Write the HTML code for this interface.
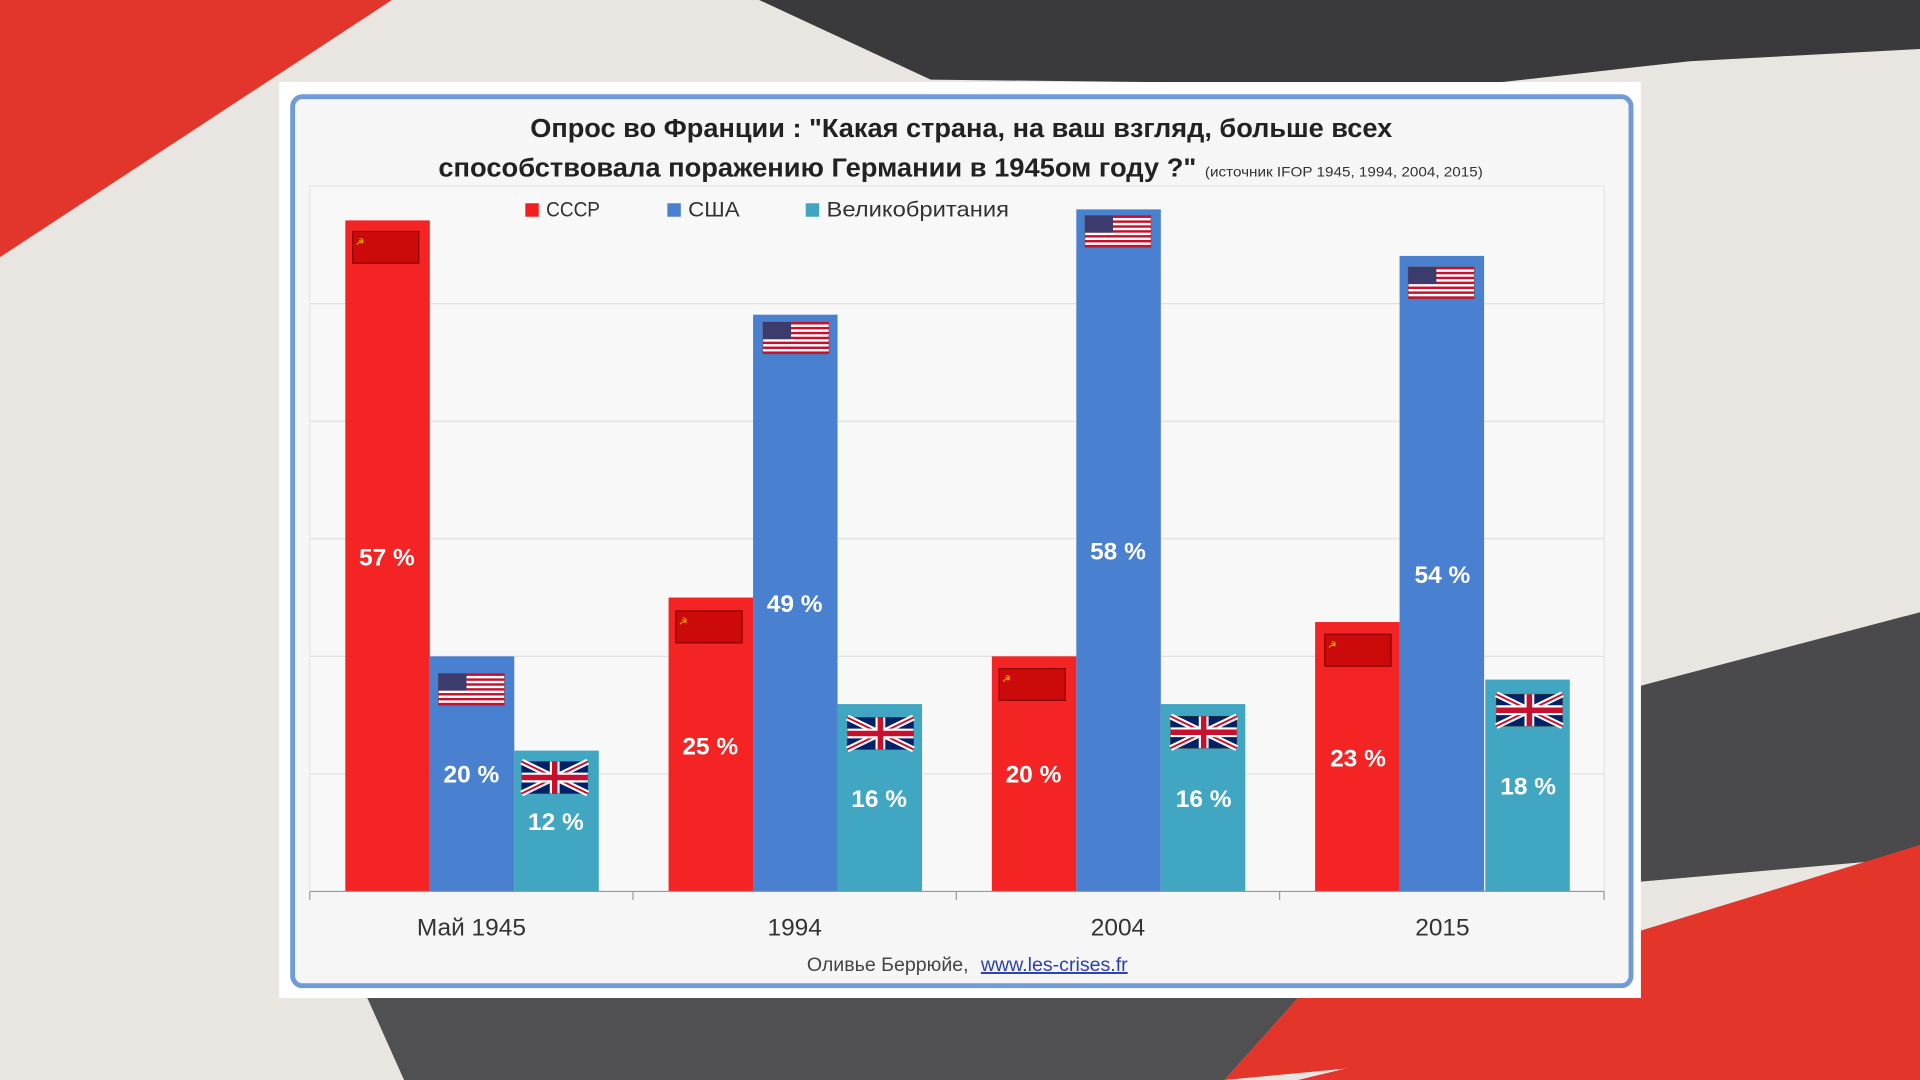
<!DOCTYPE html>
<html><head><meta charset="utf-8"><style>
html,body{margin:0;padding:0;width:1920px;height:1080px;overflow:hidden;background:#eee}
svg{display:block}
text{font-family:"Liberation Sans","DejaVu Sans",sans-serif}
</style></head><body>
<svg width="1920" height="1080" viewBox="0 0 1568 882" xmlns="http://www.w3.org/2000/svg">
<defs>
<g id="su"><rect width="54" height="26" fill="#cc0a0a" stroke="#8a0000" stroke-width="1"/><text x="6" y="11" font-size="8" fill="#f5c400">☭</text></g>
<g id="us"><rect width="54" height="26" fill="#fff" stroke="#666" stroke-width="0.6"/>
<rect y="0" width="54" height="2" fill="#c8102e"/><rect y="4" width="54" height="2" fill="#c8102e"/><rect y="8" width="54" height="2" fill="#c8102e"/><rect y="12" width="54" height="2" fill="#c8102e"/><rect y="16" width="54" height="2" fill="#c8102e"/><rect y="20" width="54" height="2" fill="#c8102e"/><rect y="24" width="54" height="2" fill="#c8102e"/>
<rect width="23" height="14" fill="#3c3b6e"/></g>
<g id="uk"><rect width="54" height="26" fill="#012169" stroke="#333" stroke-width="0.6"/>
<path d="M0 0L54 26M54 0L0 26" stroke="#fff" stroke-width="5"/><path d="M0 0L54 26M54 0L0 26" stroke="#c8102e" stroke-width="1.6"/>
<path d="M27 0V26M0 13H54" stroke="#fff" stroke-width="8"/><path d="M27 0V26M0 13H54" stroke="#c8102e" stroke-width="4.5"/></g>
</defs>
<rect width="1568" height="882" fill="#e9e6e1"/>
<polygon points="0,0 320,0 0,210" fill="#e2352b"/>
<polygon points="620,0 1568,0 1568,40 1380,50 1200,70 760,65" fill="#3a3a3c"/>
<polygon points="1340,560 1568,500 1568,700 1340,720" fill="#4a4a4c"/>
<polygon points="1340,760 1568,690 1568,882 1060,882 1340,815" fill="#e3352a"/>
<polygon points="300,815 1060,815 1000,882 330,882" fill="#505052"/>
<polygon points="1060,815 1340,815 1340,850 1000,882" fill="#e3352a"/>
<rect x="228" y="67" width="1112" height="748" fill="#fff"/>
<rect x="239" y="79" width="1093" height="726" rx="8" fill="#f6f6f6" stroke="#6f9bd6" stroke-width="4"/>
<rect x="253" y="152" width="1057" height="576" fill="#f8f8f8" stroke="#e6e6e6"/>
<text x="433" y="112" font-size="21" font-weight="bold" fill="#222" textLength="704" lengthAdjust="spacingAndGlyphs">Опрос во Франции : "Какая страна, на ваш взгляд, больше всех</text>
<text x="358" y="144" font-size="21" font-weight="bold" fill="#222" textLength="619" lengthAdjust="spacingAndGlyphs">способствовала  поражению Германии в 1945ом году ?"</text>
<text x="984" y="144" font-size="11" fill="#333" textLength="227" lengthAdjust="spacingAndGlyphs">(источник IFOP 1945, 1994, 2004, 2015)</text>
<g stroke="#e2e2e2" stroke-width="1">
<line x1="253" y1="248" x2="1310" y2="248"/><line x1="253" y1="344" x2="1310" y2="344"/><line x1="253" y1="440" x2="1310" y2="440"/><line x1="253" y1="536" x2="1310" y2="536"/><line x1="253" y1="632" x2="1310" y2="632"/>
</g>
<rect x="429" y="166" width="11" height="11" fill="#f02020"/><text x="446" y="177" font-size="17" fill="#333" textLength="44" lengthAdjust="spacingAndGlyphs">СССР</text>
<rect x="545" y="166" width="11" height="11" fill="#4a7fcf"/><text x="562" y="177" font-size="17" fill="#333" textLength="42" lengthAdjust="spacingAndGlyphs">США</text>
<rect x="658" y="166" width="11" height="11" fill="#41a5c0"/><text x="675" y="177" font-size="17" fill="#333" textLength="149" lengthAdjust="spacingAndGlyphs">Великобритания</text>
<g font-size="20" font-weight="bold" fill="#fff" text-anchor="middle">
<rect x="282" y="180" width="69" height="548" fill="#f42424"/><use href="#su" x="288" y="189"/><text x="316" y="462">57 %</text>
<rect x="351" y="536" width="69" height="192" fill="#4a80d0"/><use href="#us" x="358" y="550"/><text x="385" y="639">20 %</text>
<rect x="420" y="613" width="69" height="115" fill="#41a6c1"/><use href="#uk" x="426" y="622"/><text x="454" y="678">12 %</text>
<rect x="546" y="488" width="69" height="240" fill="#f42424"/><use href="#su" x="552" y="499"/><text x="580" y="616">25 %</text>
<rect x="615" y="257" width="69" height="471" fill="#4a80d0"/><use href="#us" x="623" y="263"/><text x="649" y="500">49 %</text>
<rect x="684" y="575" width="69" height="153" fill="#41a6c1"/><use href="#uk" x="692" y="586"/><text x="718" y="659">16 %</text>
<rect x="810" y="536" width="69" height="192" fill="#f42424"/><use href="#su" x="816" y="546"/><text x="844" y="639">20 %</text>
<rect x="879" y="171" width="69" height="557" fill="#4a80d0"/><use href="#us" x="886" y="176"/><text x="913" y="457">58 %</text>
<rect x="948" y="575" width="69" height="153" fill="#41a6c1"/><use href="#uk" x="956" y="585"/><text x="983" y="659">16 %</text>
<rect x="1074" y="508" width="69" height="220" fill="#f42424"/><use href="#su" x="1082" y="518"/><text x="1109" y="626">23 %</text>
<rect x="1143" y="209" width="69" height="519" fill="#4a80d0"/><use href="#us" x="1150" y="218"/><text x="1178" y="476">54 %</text>
<rect x="1213" y="555" width="69" height="173" fill="#41a6c1"/><use href="#uk" x="1222" y="567"/><text x="1248" y="649">18 %</text>
</g>
<g stroke="#999" stroke-width="1">
<line x1="253" y1="728" x2="1310" y2="728"/>
<line x1="253" y1="728" x2="253" y2="735"/><line x1="517" y1="728" x2="517" y2="735"/><line x1="781" y1="728" x2="781" y2="735"/><line x1="1045" y1="728" x2="1045" y2="735"/><line x1="1310" y1="728" x2="1310" y2="735"/>
</g>
<g font-size="20" fill="#333" text-anchor="middle">
<text x="385" y="764">Май 1945</text><text x="649" y="764">1994</text><text x="913" y="764">2004</text><text x="1178" y="764">2015</text>
</g>
<text x="725" y="793" text-anchor="middle" font-size="16" fill="#444">Оливье Беррюйе,</text>
<text x="861" y="793" text-anchor="middle" font-size="16" fill="#2a3fb0" text-decoration="underline">www.les-crises.fr</text>
</svg>
</body></html>
